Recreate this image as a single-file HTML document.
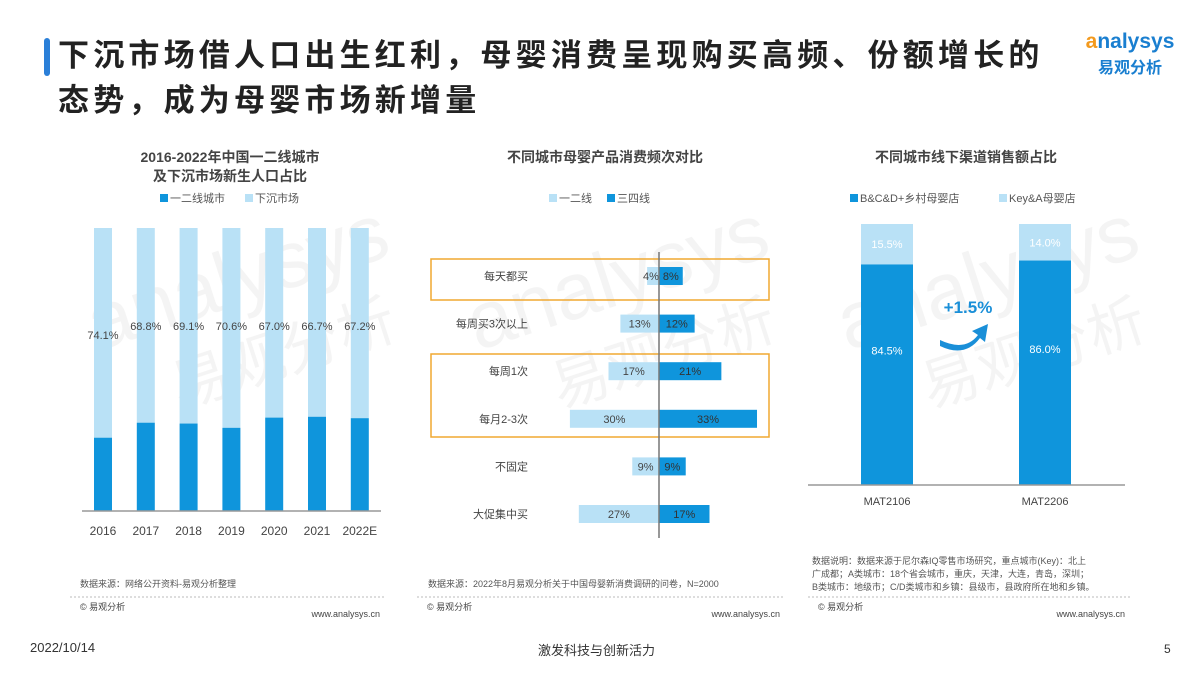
<!DOCTYPE html>
<html><head><meta charset="utf-8">
<style>
body{margin:0;width:1200px;height:675px;background:#fff;overflow:hidden;font-family:"Liberation Sans","Noto Sans CJK SC",sans-serif;position:relative}
.abs{position:absolute}
</style></head><body>
<div class="abs" style="left:44px;top:38px;width:6px;height:38px;background:#2a7fd8;border-radius:3px"></div>
<div class="abs" style="left:58px;top:33px;width:1010px;font-size:31px;letter-spacing:4.2px;font-weight:bold;line-height:45px;color:#222;white-space:nowrap">下沉市场借人口出生红利，母婴消费呈现购买高频、份额增长的<br>态势，成为母婴市场新增量</div>
<div class="abs" style="left:1070px;top:30px;width:120px;text-align:center">
<div style="font-size:21px;color:#1a7fd0;font-weight:bold"><span style="color:#f39a1e">a</span>nalysys</div>
<div style="font-size:16px;color:#1a7fd0;font-weight:bold;margin-top:0px">易观分析</div></div>
<svg class="abs" style="left:0;top:0" width="1200" height="675" id="svg"></svg>
<div class="abs" style="left:30px;top:640px;font-size:13px;color:#333">2022/10/14</div>
<div class="abs" style="left:538px;top:640px;font-size:13px;color:#333">激发科技与创新活力</div>
<div class="abs" style="left:1164px;top:642px;font-size:12px;color:#333">5</div>
<script>
const years=['2016','2017','2018','2019','2020','2021','2022E'];
const sinking=[74.1,68.8,69.1,70.6,67.0,66.7,67.2];
const freqCats=['每天都买','每周买3次以上','每周1次','每月2-3次','不固定','大促集中买'];
const tier12=[4,13,17,30,9,27];
const tier34=[8,12,21,33,9,17];
const periods=['MAT2106','MAT2206'];
const keyA=[15.5,14.0];
const bcd=[84.5,86.0];
const NS='http://www.w3.org/2000/svg';
const svg=document.getElementById('svg');
function el(t,a,txt){const e=document.createElementNS(NS,t);for(const k in a)e.setAttribute(k,a[k]);if(txt!==undefined)e.textContent=txt;svg.appendChild(e);return e;}
const DARK='#0f95dc',LIGHT='#b9e1f6',F='"Liberation Sans","Noto Sans CJK SC",sans-serif';
[[60,300],[440,300],[810,300]].forEach(p=>{
let w=el('text',{x:p[0]+20,y:p[1]+60,'font-size':80,fill:'#000','fill-opacity':0.045,'font-family':F,transform:`rotate(-18 ${p[0]} ${p[1]})`},'analysys');

let w2=el('text',{x:p[0]+80,y:p[1]+140,'font-size':58,fill:'#000','fill-opacity':0.045,'font-family':F,transform:`rotate(-18 ${p[0]} ${p[1]})`},'易观分析');

});
function txt(x,y,s,size,fill,anchor,name,weight){const t=el('text',{x:x,y:y,'font-size':size,fill:fill,'text-anchor':anchor||'middle','font-family':F,'font-weight':weight||'normal'},s);return t;}
txt(230,162,'2016-2022年中国一二线城市',14,'#444','middle','chart1-title','bold');
txt(230,181,'及下沉市场新生人口占比',14,'#444','middle','chart1-title-line2','bold');
let r=el('rect',{x:160,y:194,width:8,height:8,fill:DARK});
txt(170,202,'一二线城市',11,'#555','start','legend-entry-tier12');
r=el('rect',{x:245,y:194,width:8,height:8,fill:LIGHT});
txt(255,202,'下沉市场',11,'#555','start','legend-entry-sinking');
const c1top=228,c1base=511;
const y1=v=>c1base-(v/100)*(c1base-c1top);
const x1=i=>103+i*42.8;
years.forEach((yr,i)=>{
 const bw=18;
 let b=el('rect',{x:x1(i)-bw/2,y:c1top,width:bw,height:y1(100-sinking[i])-c1top,fill:LIGHT});
 b=el('rect',{x:x1(i)-bw/2,y:y1(100-sinking[i]),width:bw,height:c1base-y1(100-sinking[i]),fill:DARK});
 txt(x1(i),i==0?339:330,sinking[i].toFixed(1)+'%',11,'#444','middle','value-label-'+yr);
 txt(x1(i),535,yr,12,'#444','middle','x-tick-'+yr);
});
let ax=el('line',{x1:82,y1:c1base,x2:381,y2:c1base,stroke:'#999','stroke-width':1.5});
txt(605,162,'不同城市母婴产品消费频次对比',14,'#444','middle','chart2-title','bold');
r=el('rect',{x:549,y:194,width:8,height:8,fill:LIGHT});
txt(559,202,'一二线',11,'#555','start','legend-entry-tier12');
r=el('rect',{x:607,y:194,width:8,height:8,fill:DARK});
txt(617,202,'三四线',11,'#555','start','legend-entry-tier34');
[[259,41],[354,83]].forEach((b,i)=>{let h=el('rect',{x:431,y:b[0],width:338,height:b[1],fill:'none',stroke:'#f0a830','stroke-width':1.5});});
const cx=659,sc=2.97;
const y2=i=>276+i*47.6;
freqCats.forEach((c,i)=>{
 const y=y2(i);
 let b=el('rect',{x:cx-tier12[i]*sc,y:y-9,width:tier12[i]*sc,height:18,fill:LIGHT});
 b=el('rect',{x:cx,y:y-9,width:tier34[i]*sc,height:18,fill:DARK});
 txt(cx-Math.max(tier12[i]*sc/2,8),y+4,tier12[i]+'%',11,'#444','middle','value-tier12-'+i);
 txt(cx+Math.max(tier34[i]*sc/2,10),y+4,tier34[i]+'%',11,'#333','middle','value-tier34-'+i);
 txt(528,y+4,c,11,'#444','end','category-label-'+i);
});
ax=el('line',{x1:cx,y1:252,x2:cx,y2:538,stroke:'#777','stroke-width':1.5});
txt(966,162,'不同城市线下渠道销售额占比',14,'#444','middle','chart3-title','bold');
r=el('rect',{x:850,y:194,width:8,height:8,fill:DARK});
txt(860,202,'B&C&D+乡村母婴店',11,'#555','start','legend-entry-bcd');
r=el('rect',{x:999,y:194,width:8,height:8,fill:LIGHT});
txt(1009,202,'Key&A母婴店',11,'#555','start','legend-entry-keya');
const c3top=224,c3base=485;
const y3=v=>c3base-(v/100)*(c3base-c3top);
const x3=i=>887+i*158;
periods.forEach((p,i)=>{
 let b=el('rect',{x:x3(i)-26,y:c3top,width:52,height:y3(bcd[i])-c3top,fill:LIGHT});
 b=el('rect',{x:x3(i)-26,y:y3(bcd[i]),width:52,height:c3base-y3(bcd[i]),fill:DARK});
 txt(x3(i),(c3top+y3(bcd[i]))/2+4,keyA[i].toFixed(1)+'%',11,'#fff','middle','value-keya-'+p);
 txt(x3(i),(y3(bcd[i])+c3base)/2-20,bcd[i].toFixed(1)+'%',11,'#fff','middle','value-bcd-'+p);
 txt(x3(i),505,p,11,'#444','middle','x-tick-'+p);
});
ax=el('line',{x1:808,y1:c3base,x2:1125,y2:c3base,stroke:'#999','stroke-width':1.5});
txt(968,313,'+1.5%',17,'#1a8fd8','middle','growth-annotation','bold');
let ar=el('path',{d:'M940 340 Q965 352 978 335 L972 331 L988 324 L985 342 L980 338 Q965 358 940 346 Z',fill:'#1a8fd8'});
txt(80,587,'数据来源：网络公开资料-易观分析整理',9,'#555','start','source-note-1');
txt(428,587,'数据来源：2022年8月易观分析关于中国母婴新消费调研的问卷，N=2000',9,'#555','start','source-note-2');
txt(812,564,'数据说明：数据来源于尼尔森IQ零售市场研究，重点城市(Key)：北上',9,'#555','start','source-note-3a');
txt(812,577,'广成都；A类城市：18个省会城市，重庆，天津，大连，青岛，深圳；',9,'#555','start','source-note-3b');
txt(812,590,'B类城市：地级市；C/D类城市和乡镇：县级市，县政府所在地和乡镇。',9,'#555','start','source-note-3c');
[[70,385],[417,785],[808,1130]].forEach((s,i)=>{
 let l=el('line',{x1:s[0],y1:597,x2:s[1],y2:597,stroke:'#bbb','stroke-width':1,'stroke-dasharray':'2 2'});
 txt(s[0]+10,610,'© 易观分析',9,'#444','start','copyright-'+i);
 txt(s[1]-5,617,'www.analysys.cn',9,'#444','end','website-'+i);
});
</script>
</body></html>
